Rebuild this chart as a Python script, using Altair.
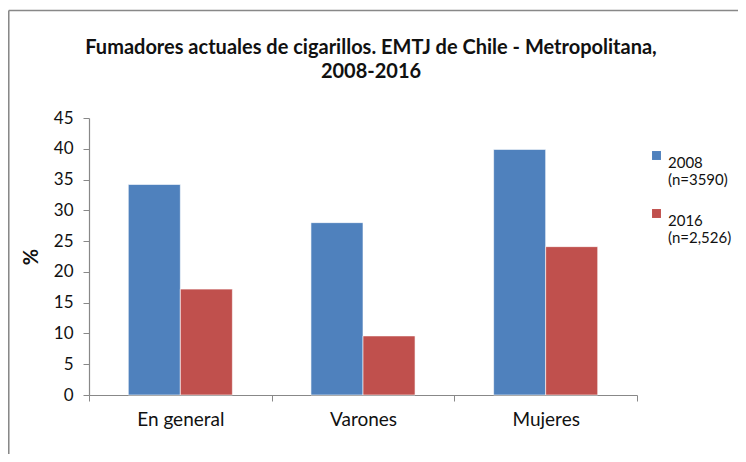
import altair as alt
import pandas as pd

categories = ["En general", "Varones", "Mujeres"]
series = ["2008|(n=3590)", "2016|(n=2,526)"]
values_2008 = [34.2, 28.0, 39.9]
values_2016 = [17.2, 9.6, 24.1]
colors = ["#4F81BD", "#C0504D"]
y_ticks = [0, 5, 10, 15, 20, 25, 30, 35, 40, 45]

rows = []
for c, v in zip(categories, values_2008):
    rows.append({"cat": c, "serie": series[0], "val": v})
for c, v in zip(categories, values_2016):
    rows.append({"cat": c, "serie": series[1], "val": v})
df = pd.DataFrame(rows)

FONT = "Lato"

bars = alt.Chart(df).mark_bar(stroke="white", strokeWidth=0.6).encode(
    x=alt.X("cat:N", sort=categories, title=None,
            scale=alt.Scale(paddingInner=0, paddingOuter=0),
            axis=alt.Axis(labelAngle=0, tickBand="extent", labelFontSize=19,
                          labelColor="#111", labelFont=FONT, labelPadding=9,
                          domainColor="#888", tickColor="#888", tickSize=6,
                          domainWidth=1.2)),
    xOffset=alt.XOffset("serie:N", sort=series,
                        scale=alt.Scale(paddingOuter=0.755, paddingInner=0)),
    y=alt.Y("val:Q", title="%",
            scale=alt.Scale(domain=[0, 45], nice=False),
            axis=alt.Axis(values=y_ticks, grid=False, labelFontSize=17,
                          labelColor="#111", labelFont=FONT, titleFont=FONT,
                          titleFontSize=20, titleFontWeight="bold",
                          titleColor="#111", titlePadding=12,
                          domainColor="#888", tickColor="#888", tickSize=6,
                          domainWidth=1.2, labelPadding=10)),
    color=alt.Color("serie:N", sort=series,
                    scale=alt.Scale(domain=series, range=colors),
                    legend=alt.Legend(title=None, orient="none", legendX=560,
                                      legendY=30, symbolType="square",
                                      symbolSize=80, symbolStrokeWidth=0,
                                      labelFont=FONT, labelFontSize=15,
                                      labelColor="#111", rowPadding=18,
                                      labelExpr="split(datum.label, '|')",
                                      labelBaseline="top", labelOffset=4,
                                      labelLimit=200)),
)

frame = pd.DataFrame({"x": [-80.25], "y": [-107.5]})
left_border = alt.Chart(frame).mark_rule(color="#888", strokeWidth=1.6, clip=False).encode(
    x=alt.value(-80.25), y=alt.value(-107.5), y2=alt.value(400))
top_border = alt.Chart(frame).mark_rule(color="#888", strokeWidth=1.6, clip=False).encode(
    x=alt.value(-80.25), x2=alt.value(700), y=alt.value(-107.5))

chart = alt.layer(left_border, top_border, bars).properties(
    width=548, height=277,
    padding={"left": 81, "top": 110, "right": 101, "bottom": 59},
    autosize=alt.AutoSizeParams(type="none"),
    title=alt.Title(["Fumadores actuales de cigarillos. EMTJ de Chile - Metropolitana,",
                     "2008-2016"],
                    font=FONT, fontSize=20, fontWeight="bold", color="#111",
                    anchor="middle", frame="group", dx=8, offset=-72,
                    lineHeight=24),
).configure_view(stroke=None)

chart.save("out.html", embed_options={"renderer": "svg", "actions": False})
